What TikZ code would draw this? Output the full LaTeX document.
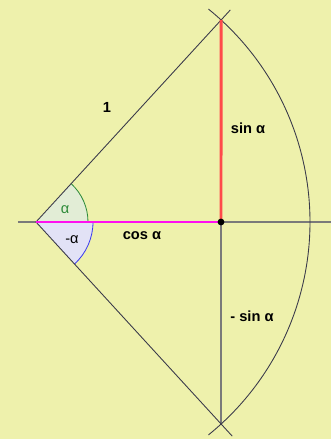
\documentclass[tikz,border=0pt]{standalone}
\usepackage{fontspec}
\setmainfont{Liberation Sans}
\usetikzlibrary{calc}
\definecolor{paper}{HTML}{EEF1AC}
\definecolor{ray}{HTML}{3A3A4A}
\definecolor{axis}{HTML}{7A7A7A}
\definecolor{sinred}{HTML}{FF4A4A}
\definecolor{cosmag}{HTML}{FF10F0}
\definecolor{alphagreen}{HTML}{2E8B3A}
\definecolor{alphablue}{HTML}{3A3AF0}
\definecolor{greenfill}{HTML}{E2EDD6}
\definecolor{bluefill}{HTML}{E2E2F6}

\begin{document}
\begin{tikzpicture}[x=0.03cm,y=0.03cm,
    ray/.style={draw=ray, line width=0.75pt},
    axisline/.style={draw=axis, line width=1.5pt},
    lbl/.style={font=\fontsize{12.5}{15}\selectfont\bfseries, text=black}]
  \fill[paper] (-36,-217) rectangle (295,222);
  \useasboundingbox (-36,-217) rectangle (295,222);
  \coordinate (O) at (0,0);
  \coordinate (F) at (185,0);
  \coordinate (A) at (47.5:274);
  \coordinate (B) at (-47.5:274);
  % angles
  \fill[greenfill] (O) -- (52,0) arc (0:47.5:52) -- cycle;
  \draw[alphagreen, line width=0.7pt] (52,0) arc (0:47.5:52);
  \fill[bluefill] (O) -- (57,0) arc (0:-47.5:57) -- cycle;
  \draw[alphablue, line width=0.7pt] (57,0) arc (0:-47.5:57);
  % axes
  \draw[axisline] (-18,0) -- (295,0);
  \draw[axisline] (F) -- (B);
  % rays and unit arc
  \draw[ray] (O) -- ($(O)!1.05!(A)$);
  \draw[ray] (O) -- ($(O)!1.06!(B)$);
  \draw[ray] (-51:274) arc (-51:51:274);
  % sin and cos
  \draw[sinred, line width=2.5pt] (F) -- (A);
  \draw[cosmag, line width=2.5pt] (O) -- (F);
  \fill[black] (F) circle (3.4);
  % labels
  \node[lbl] (one) at (71,115) {1};
  \node[lbl] (sin) at (212,94) {sin α};
  \node[lbl] (cos) at (106,-14) {cos α};
  \node[lbl] (msin) at (216,-94) {- sin α};
  \node[lbl, text=alphagreen, font=\fontsize{12.5}{15}\selectfont] (a) at (29,12) {α};
  \node[lbl, font=\fontsize{12.5}{15}\selectfont] (ma) at (36,-18) {-α};
\end{tikzpicture}
\end{document}
